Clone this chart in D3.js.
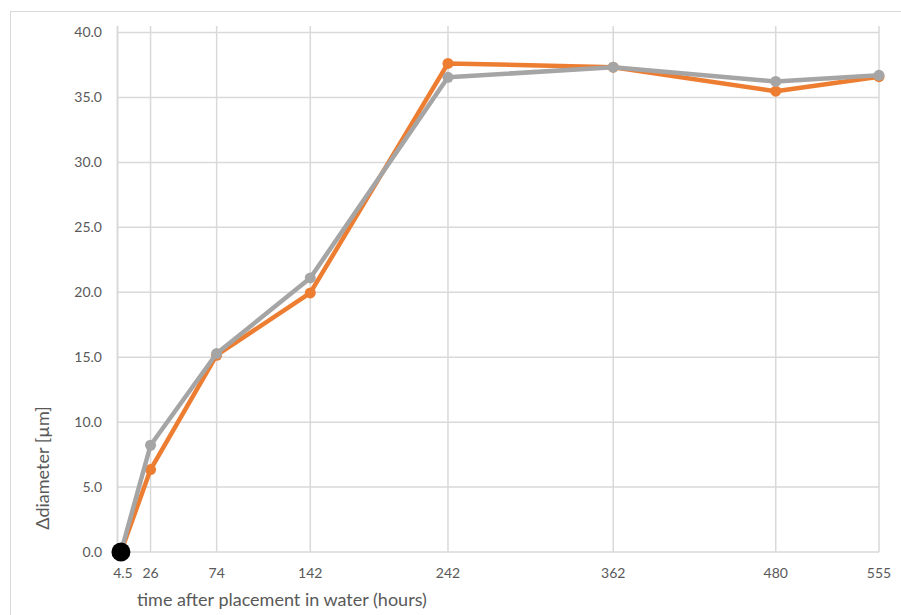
<!DOCTYPE html>
<html>
<head>
<meta charset="utf-8">
<script src="https://cdn.jsdelivr.net/npm/d3@7"></script>
<style>
  html, body { margin: 0; padding: 0; background: #fff; }
  svg { display: block; }
  text { font-family: Lato, "Open Sans", sans-serif; fill: #595959; }
</style>
</head>
<body>
<svg id="chart" width="901" height="615"></svg>
<script>
// Hours after placement in water
const hours = [4.5, 26, 74, 142, 242, 362, 480, 555];
const hourLabels = ["4.5", "26", "74", "142", "242", "362", "480", "555"];
// Change of diameter [µm]
const seriesOrange = [0, 6.35, 15.15, 19.95, 37.62, 37.33, 35.48, 36.6];
const seriesGray = [0, 8.22, 15.28, 21.1, 36.55, 37.33, 36.23, 36.7];
const startPoint = [{ h: 4.5, v: 0 }];
const yTicks = [0, 5, 10, 15, 20, 25, 30, 35, 40];

const svg = d3.select("#chart");

const x = d3.scaleLinear().domain([2, 555]).range([117.5, 879]);
const y = d3.scaleLinear().domain([0, 40]).range([552, 32.5]);

const grid = "#d9d9d9";

// outer chart frame
svg.append("rect")
  .attr("x", 10.5).attr("y", 11.5)
  .attr("width", 900).attr("height", 610)
  .attr("fill", "none").attr("stroke", grid).attr("stroke-width", 1);

// horizontal gridlines
svg.append("g").selectAll("line").data(yTicks).join("line")
  .attr("x1", x.range()[0]).attr("x2", x(555))
  .attr("y1", d => y(d)).attr("y2", d => y(d))
  .attr("stroke", grid).attr("stroke-width", 1.5);

// vertical gridlines at each sampling time
svg.append("g").selectAll("line").data(hours.slice(1)).join("line")
  .attr("x1", d => x(d)).attr("x2", d => x(d))
  .attr("y1", 26).attr("y2", y(0))
  .attr("stroke", grid).attr("stroke-width", 1.5);

// value axis line
svg.append("line")
  .attr("x1", x.range()[0]).attr("x2", x.range()[0])
  .attr("y1", 26).attr("y2", y(0))
  .attr("stroke", grid).attr("stroke-width", 2);

// y tick labels
svg.append("g").selectAll("text").data(yTicks).join("text")
  .attr("x", 102).attr("y", d => y(d))
  .attr("dy", "0.35em")
  .attr("text-anchor", "end")
  .attr("font-size", 14)
  .text(d => d.toFixed(1));

// x tick labels
svg.append("g").selectAll("text").data(hours).join("text")
  .attr("x", (d, i) => i === 0 ? x(d) + 2 : x(d))
  .attr("y", 573)
  .attr("dy", "0.35em")
  .attr("text-anchor", "middle")
  .attr("font-size", 14)
  .text((d, i) => hourLabels[i]);

// axis titles
svg.append("text")
  .attr("x", 137).attr("y", 606)
  .attr("font-size", 18)
  .text("time after placement in water (hours)");

svg.append("text")
  .attr("transform", "translate(49,468) rotate(-90)")
  .attr("text-anchor", "middle")
  .attr("font-size", 18)
  .text("Δdiameter [µm]");

const line = d3.line().x((d, i) => x(hours[i])).y(d => y(d));

function drawSeries(values, color) {
  svg.append("path")
    .datum(values)
    .attr("d", line)
    .attr("fill", "none")
    .attr("stroke", color)
    .attr("stroke-width", 4.5)
    .attr("stroke-linejoin", "round");
  svg.append("g").selectAll("circle").data(values).join("circle")
    .attr("cx", (d, i) => x(hours[i]))
    .attr("cy", d => y(d))
    .attr("r", 5.5)
    .attr("fill", color);
}

drawSeries(seriesOrange, "#ed7d31");
drawSeries(seriesGray, "#a5a5a5");

// common starting point
svg.append("g").selectAll("circle").data(startPoint).join("circle")
  .attr("cx", d => x(d.h)).attr("cy", d => y(d.v))
  .attr("r", 9.5)
  .attr("fill", "#000");
</script>
</body>
</html>
